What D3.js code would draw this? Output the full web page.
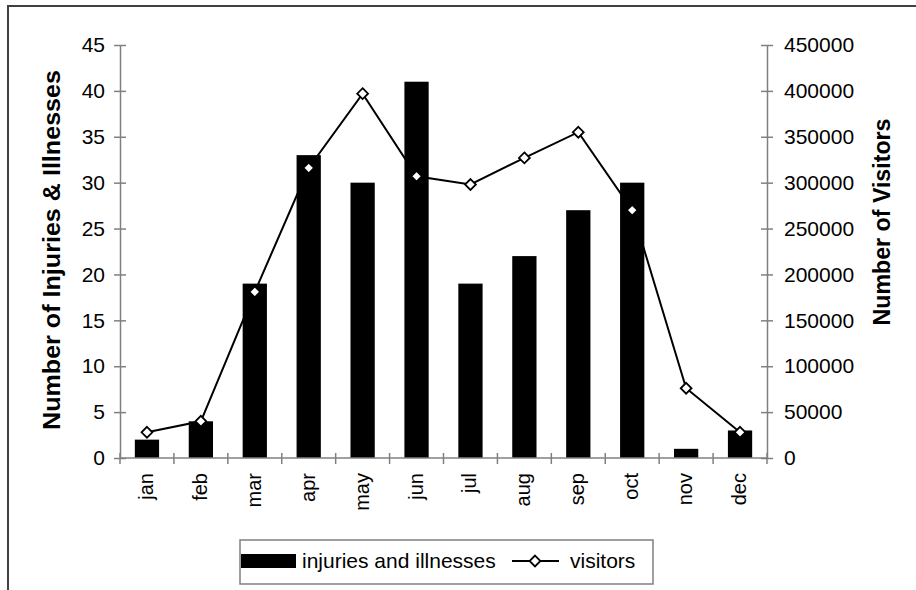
<!DOCTYPE html>
<html><head><meta charset="utf-8">
<script src="https://cdn.jsdelivr.net/npm/d3@7"></script>
<style>body{margin:0;background:#fff}svg{display:block;font-family:"Liberation Sans",Arial,sans-serif}</style>
</head><body><svg id="c" width="916" height="590"></svg>
<script>
const months = ["jan","feb","mar","apr","may","jun","jul","aug","sep","oct","nov","dec"];
const injuries = [2,4,19,33,30,41,19,22,27,30,1,3];
const visitors = [28000,40000,181000,316000,397000,307000,298000,327000,355000,270000,76000,28000];
const leftTicks = [0,5,10,15,20,25,30,35,40,45];
const rightTicks = [0,50000,100000,150000,200000,250000,300000,350000,400000,450000];

const svg = d3.select("#c");
const L = 120, R = 767, T = 45, B = 458;
const x = d3.scaleBand().domain(months).range([L, R]).paddingInner(0.55).paddingOuter(0.275);
const xb = d3.scaleBand().domain(months).range([L, R]);
const yL = d3.scaleLinear().domain([0,45]).range([B, T]);
const yR = d3.scaleLinear().domain([0,450000]).range([B, T]);
const axisCol = "#808080";
const FF = "'Liberation Sans',Arial,sans-serif";

// frame
svg.append("path").attr("d","M8,592 V6 H920").attr("fill","none").attr("stroke","#404040").attr("stroke-width",2);

// line (behind bars)
const line = d3.line().x((d,i)=>xb(months[i])+xb.bandwidth()/2).y(d=>yR(d));
svg.append("path").datum(visitors).attr("d",line).attr("fill","none").attr("stroke","#000").attr("stroke-width",2);

// bars
svg.selectAll("rect.bar").data(injuries).join("rect").attr("class","bar")
  .attr("x",(d,i)=>x(months[i])).attr("width",x.bandwidth())
  .attr("y",d=>yL(d)).attr("height",d=>B-yL(d)).attr("fill","#000");

// axes
function styleAxis(g){ g.selectAll("path,line").attr("stroke",axisCol).attr("stroke-width",1.5);
  g.selectAll("text").attr("fill","#000").style("font-size","21px").style("font-family",FF); }
const gl = svg.append("g").attr("transform",`translate(${L},0)`)
  .call(d3.axisLeft(yL).tickValues(leftTicks).tickSizeInner(6).tickSizeOuter(0).tickPadding(9));
gl.selectAll(".tick line").attr("x2",6).attr("x1",-6);
styleAxis(gl);
const gr = svg.append("g").attr("transform",`translate(${R},0)`)
  .call(d3.axisRight(yR).tickValues(rightTicks).tickSizeInner(6).tickSizeOuter(0).tickPadding(11).tickFormat(d3.format("d")));
gr.selectAll(".tick line").attr("x1",-6).attr("x2",6);
styleAxis(gr);

// x axis with ticks at band boundaries
const gx = svg.append("g");
gx.append("line").attr("x1",L).attr("x2",R).attr("y1",B).attr("y2",B).attr("stroke",axisCol).attr("stroke-width",1.5);
const bounds = months.map(m=>xb(m)).concat([R]);
gx.selectAll("line.t").data(bounds).join("line").attr("class","t")
  .attr("x1",d=>d).attr("x2",d=>d).attr("y1",B-5).attr("y2",B+6).attr("stroke",axisCol).attr("stroke-width",1.5);
gx.selectAll("text").data(months).join("text")
  .attr("transform",d=>`translate(${xb(d)+xb.bandwidth()/2+6},473) rotate(-90)`)
  .attr("text-anchor","end").style("font-size","20px").text(d=>d);

// markers
const diamond = d3.symbol().type(d3.symbolDiamond2).size(75);
svg.selectAll("path.mk").data(visitors).join("path").attr("class","mk")
  .attr("d",diamond).attr("transform",(d,i)=>`translate(${xb(months[i])+xb.bandwidth()/2},${yR(d)})`)
  .attr("fill","#fff").attr("stroke","#000").attr("stroke-width",1.8);

// titles
svg.append("text").attr("transform","translate(60,250) rotate(-90)").attr("text-anchor","middle")
  .attr("textLength",360).attr("lengthAdjust","spacingAndGlyphs")
  .style("font-size","23px").style("font-weight","bold").text("Number of Injuries & Illnesses");
svg.append("text").attr("transform","translate(890,222) rotate(-90)").attr("text-anchor","middle")
  .attr("textLength",207).attr("lengthAdjust","spacingAndGlyphs")
  .style("font-size","23px").style("font-weight","bold").text("Number of Visitors");

// legend
svg.append("rect").attr("x",240).attr("y",540).attr("width",413).attr("height",44)
  .attr("fill","#fff").attr("stroke",axisCol).attr("stroke-width",1.5);
svg.append("rect").attr("x",241).attr("y",554).attr("width",55).attr("height",14).attr("fill","#000");
svg.append("text").attr("x",302).attr("y",568).style("font-size","21px").text("injuries and illnesses");
svg.append("line").attr("x1",512).attr("x2",559).attr("y1",561).attr("y2",561).attr("stroke","#000").attr("stroke-width",2);
svg.append("path").attr("d",diamond).attr("transform","translate(535,561)").attr("fill","#fff").attr("stroke","#000").attr("stroke-width",1.8);
svg.append("text").attr("x",570).attr("y",568).style("font-size","21px").text("visitors");
</script></body></html>
